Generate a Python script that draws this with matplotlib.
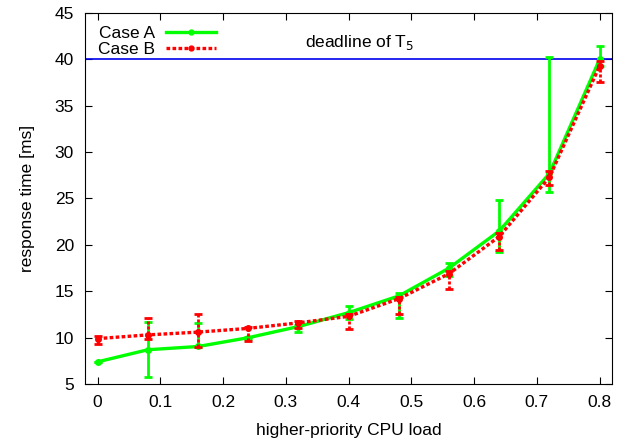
import matplotlib.pyplot as plt
from matplotlib.lines import Line2D
import numpy as np

plt.rcParams['font.family'] = ['Liberation Sans', 'DejaVu Sans']

# data
load = [0, 0.08, 0.16, 0.24, 0.32, 0.40, 0.48, 0.56, 0.64, 0.72, 0.80]

case_a = [7.4, 8.7, 9.05, 10.0, 11.2, 12.7, 14.5, 17.5, 21.5, 27.7, 40.0]
case_a_lo = [7.4, 5.8, 9.0, 9.9, 10.6, 12.0, 12.1, 16.6, 19.2, 25.7, 39.3]
case_a_hi = [7.4, 11.7, 11.6, 10.1, 11.4, 13.4, 14.8, 18.1, 24.8, 40.2, 41.4]

case_b = [9.9, 10.3, 10.6, 11.0, 11.6, 12.3, 14.2, 16.9, 20.9, 27.3, 39.3]
case_b_lo = [9.3, 9.9, 9.0, 9.6, 11.0, 10.9, 12.6, 15.2, 19.4, 26.5, 37.5]
case_b_hi = [10.2, 12.1, 12.6, 11.2, 11.8, 12.6, 14.4, 17.2, 21.3, 28.0, 39.8]

deadline = 40

fig = plt.figure(figsize=(6.26, 4.43), dpi=100)
ax = fig.add_axes([0.136, 0.133, 0.842, 0.838])

dash = (0, (1.1, 0.7))
a = np.array(case_a)
b = np.array(case_b)
ax.errorbar(load, case_a, yerr=[a - np.array(case_a_lo), np.array(case_a_hi) - a],
            color='#00ff00', lw=2.4, marker='o', ms=4, capsize=3, elinewidth=2,
            capthick=2, zorder=3)
eb = ax.errorbar(load, case_b, yerr=[b - np.array(case_b_lo), np.array(case_b_hi) - b],
                 color='#ff0000', lw=2.4, ls=dash, marker='o', ms=4,
                 capsize=3, elinewidth=2, capthick=2, zorder=4)
eb[-1][0].set_linestyle(dash)

ax.axhline(deadline, color='#0000ee', lw=1.2, zorder=2)
ax.text(0.418, 41.8, 'deadline of T$_5$', ha='center', va='center', fontsize=12.5)

ax.set_xlim(-0.02, 0.82)
ax.set_ylim(5, 45)
ax.set_xticks(np.arange(0, 0.81, 0.1))
ax.set_xticklabels(['0', '0.1', '0.2', '0.3', '0.4', '0.5', '0.6', '0.7', '0.8'])
ax.set_yticks(range(5, 46, 5))
ax.tick_params(direction='in', top=True, right=True, labelsize=12.5, length=5, pad=8)
ax.set_xlabel('higher-priority CPU load', fontsize=12.5, labelpad=9)
ax.set_ylabel('response time [ms]', fontsize=12.5, labelpad=14)

handles = [
    Line2D([], [], color='#00ff00', lw=2.4, marker='o', ms=3.5),
    Line2D([], [], color='#ff0000', lw=2.4, ls=dash, marker='o', ms=3.5),
]
leg = ax.legend(handles, ['Case A', 'Case B'], loc='upper left', frameon=False,
                markerfirst=False, fontsize=12.5, handlelength=2.9, handletextpad=0.6,
                borderaxespad=0.35, labelspacing=0.05, numpoints=1)

fig.savefig('out.png', dpi=100)
